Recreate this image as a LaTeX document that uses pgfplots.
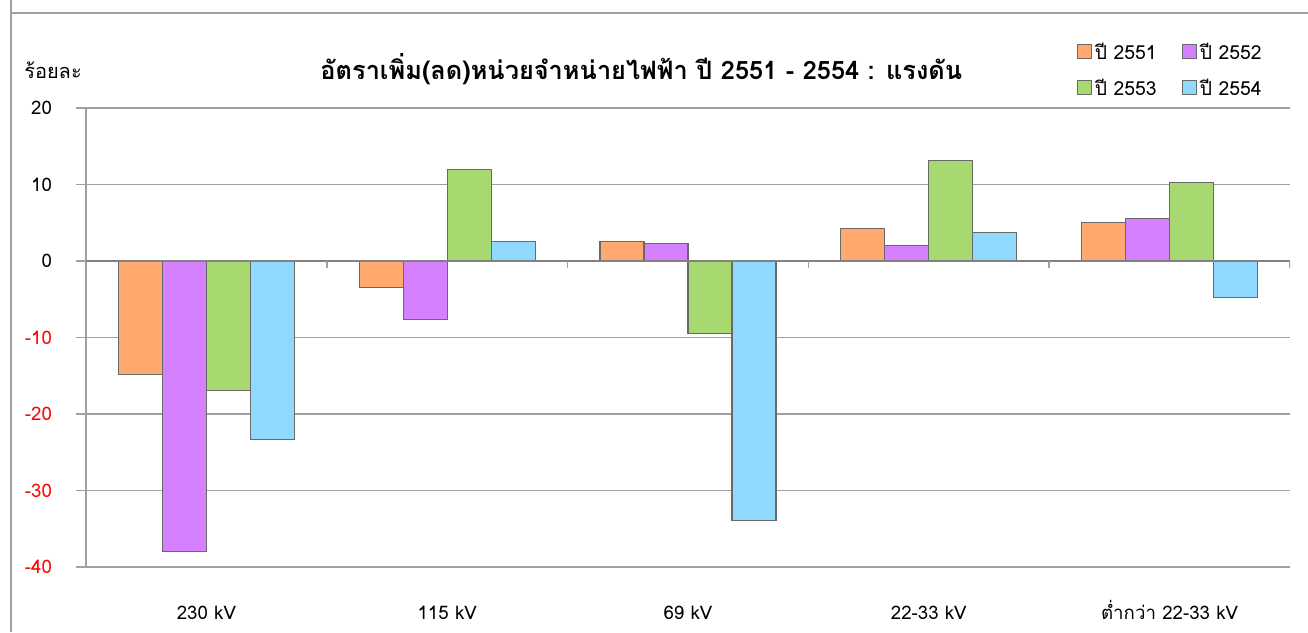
\documentclass[border=0pt]{standalone}
\usepackage{pgfplots}
\pgfplotsset{compat=1.18}
\usepackage{fontspec}
\setmainfont[Script=Thai]{Loma}
\definecolor{c1}{RGB}{255,169,110}
\definecolor{c2}{RGB}{213,128,255}
\definecolor{c3}{RGB}{168,217,112}
\definecolor{c4}{RGB}{143,217,255}
\definecolor{edge}{RGB}{105,105,105}
\definecolor{gridc}{RGB}{160,160,160}
\definecolor{zeroc}{RGB}{130,130,130}
\begin{document}
\begin{tikzpicture}
\useasboundingbox (0,0) rectangle (981pt,-474pt);
% frame
\draw[gridc, line width=1.5pt] (8pt,0) -- (8pt,-474pt);
\draw[gridc, line width=1.5pt] (8pt,-10pt) -- (981pt,-10pt);
\node[anchor=base west, inner sep=0pt, font=\fontsize{15}{17}\selectfont] at (18pt,-58.5pt) {ร้อยละ};
\node[anchor=base, inner sep=0pt, font=\fontsize{19}{22}\selectfont\bfseries] at (481pt,-59.25pt)
  {อัตราเพิ่ม(ลด)หน่วยจำหน่ายไฟฟ้า ปี 2551 - 2554 : แรงดัน};
\begin{axis}[
  at={(64.5pt,-425.25pt)}, anchor=south west,
  scale only axis, width=903pt, height=344.25pt,
  ybar=0pt, bar width=33pt,
  xmin=-0.5, xmax=4.5, ymin=-40, ymax=20,
  axis lines=left,
  axis line style={draw=gridc, line width=1.5pt, -},
  ytick={-40,-30,...,20},
  yticklabels={\textcolor{red}{-40},\textcolor{red}{-30},\textcolor{red}{-20},\textcolor{red}{-10},0,10,20},
  ymajorgrids,
  grid style={draw=gridc, line width=1.1pt},
  tick align=outside,
  major tick length=7.5pt,
  ytick style={draw=gridc, line width=1.1pt},
  xtick={0,1,2,3,4},
  xticklabels={230 kV,115 kV,69 kV,22-33 kV,ต่ำกว่า 22-33 kV},
  xtick style={draw=none},
  tick label style={font=\fontsize{14}{16}\selectfont},
  xticklabel style={anchor=base, yshift=-32pt},
  yticklabel style={anchor=east, xshift=-14.5pt},
  legend columns=2,
  legend style={at={(0.823,1.148)}, anchor=north west, draw=none, fill=none,
    inner sep=0pt, font=\fontsize{14.5}{16}\selectfont,
    /tikz/every even column/.append style={column sep=17pt},
    row sep=9.5pt},
  legend image code/.code={\draw[#1,/tikz/.cd] (0pt,-4.5pt) rectangle (10.5pt,6pt);},
  every axis plot/.append style={draw=edge, line width=0.8pt},
]
\addplot[fill=c1] coordinates {(0,-14.8) (1,-3.5) (2,2.5) (3,4.2) (4,5.0)};
\addlegendentry{ปี 2551}
\addplot[fill=c2] coordinates {(0,-38.0) (1,-7.7) (2,2.3) (3,2.0) (4,5.6)};
\addlegendentry{ปี 2552}
\addplot[fill=c3] coordinates {(0,-16.9) (1,12.0) (2,-9.5) (3,13.1) (4,10.3)};
\addlegendentry{ปี 2553}
\addplot[fill=c4] coordinates {(0,-23.3) (1,2.6) (2,-33.9) (3,3.7) (4,-4.8)};
\addlegendentry{ปี 2554}
\draw[zeroc, line width=1.6pt] (axis cs:-0.5,0) -- (axis cs:4.5,0);
\pgfplotsinvokeforeach{0.5,1.5,2.5,3.5,4.5}{\draw[gridc, line width=1.1pt] (axis cs:#1,0) -- ++(0pt,-5pt);}
\end{axis}
\end{tikzpicture}
\end{document}
